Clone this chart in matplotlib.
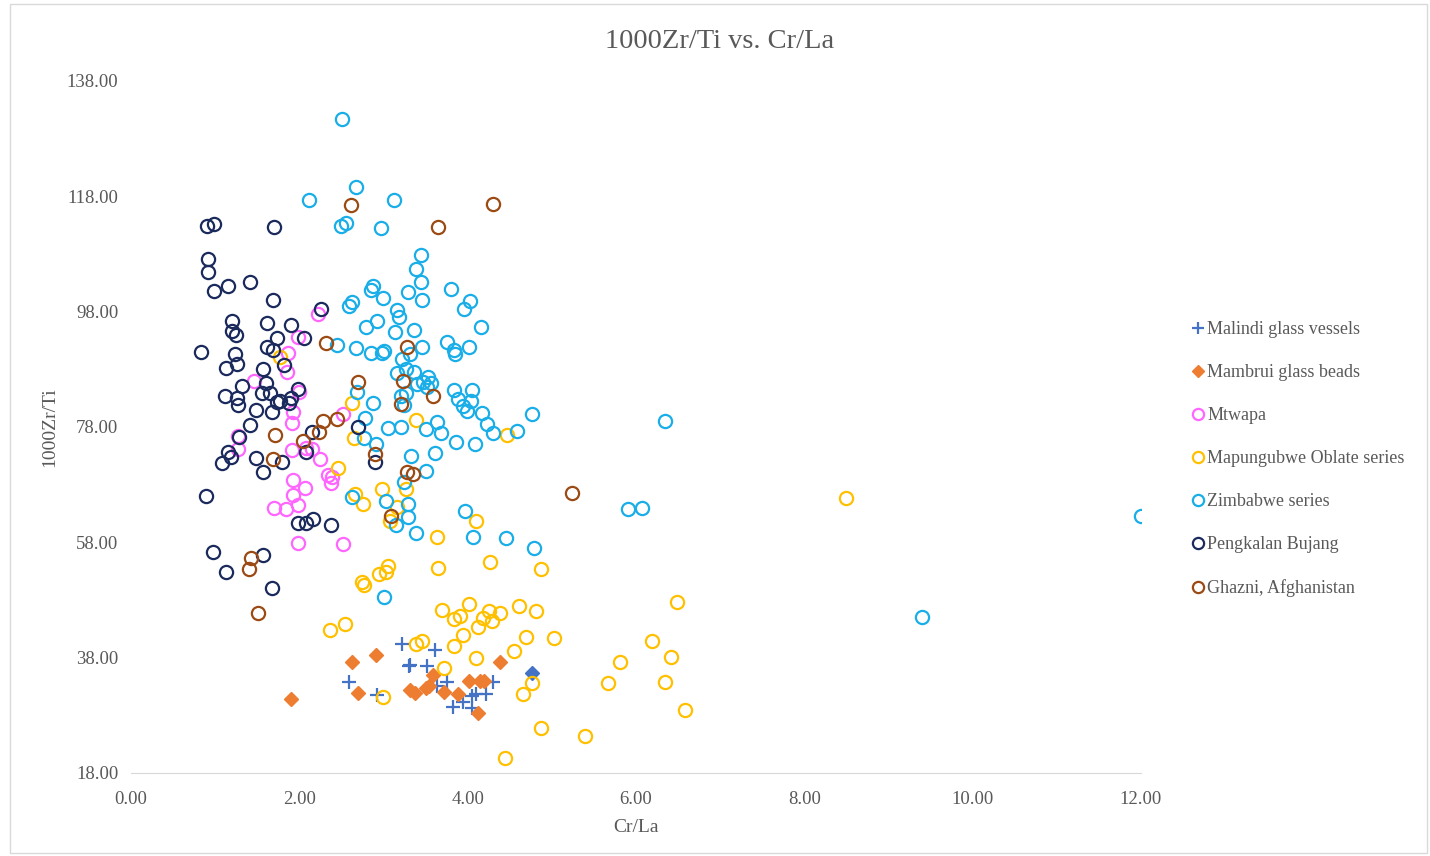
import matplotlib
matplotlib.use("Agg")
import matplotlib.pyplot as plt
from matplotlib.patches import Rectangle

plt.rcParams['font.family'] = ['Liberation Serif', 'DejaVu Serif']

# Malindi glass vessels
malindi_x = [3.22, 3.61, 3.30, 3.31, 3.52, 2.59, 2.92, 3.64, 3.75, 4.05, 4.10, 4.22, 4.30, 3.94, 3.83, 4.05]
malindi_y = [40.4, 39.3, 36.6, 36.7, 36.6, 33.8, 31.5, 33.1, 33.8, 31.4, 31.7, 31.7, 33.8, 30.3, 29.4, 29.3]

# Mambrui glass beads
mambrui_x = [2.63, 2.91, 2.70, 3.59, 3.31, 3.37, 3.50, 3.54, 3.72, 3.89, 4.02, 4.15, 4.19, 4.38, 4.12, 1.90]
mambrui_y = [37.3, 38.5, 31.9, 35.0, 32.4, 31.9, 32.8, 33.1, 32.1, 31.7, 34.0, 34.0, 34.0, 37.3, 28.4, 30.8]
# one point drawn in blue in the original
odd_x = [4.76]
odd_y = [35.3]

# Mtwapa
mtwapa_x = [2.22, 1.98, 1.87, 1.85, 1.46, 2.00, 1.92, 1.91, 2.52, 1.27, 1.27, 1.91, 2.08,
            2.15, 2.25, 2.34, 2.39, 2.38, 1.92, 2.07, 1.92, 1.98, 1.70, 1.84, 1.98, 2.52]
mtwapa_y = [97.6, 93.6, 90.8, 87.5, 86.0, 84.1, 80.6, 78.7, 80.3, 76.4, 74.2, 74.0, 74.4,
            74.2, 72.5, 69.7, 69.3, 68.3, 68.8, 67.4, 66.2, 64.5, 64.0, 63.8, 57.9, 57.7]

# Mapungubwe Oblate series
mapu_x = [1.77, 2.63, 2.65, 2.46, 2.66, 2.76, 3.39, 4.47, 2.98, 3.27, 3.16, 3.08, 4.10, 3.64,
          4.27, 4.87, 3.65, 2.74, 2.77, 2.95, 3.03, 3.05, 2.36, 2.54, 3.69, 3.84, 3.91, 4.02,
          4.12, 4.18, 4.25, 4.29, 4.38, 4.61, 4.81, 3.94, 3.84, 3.39, 3.46, 4.69, 5.03, 4.55,
          4.10, 3.72, 2.99, 4.76, 4.66, 4.87, 4.44, 6.49, 6.19, 6.42, 5.81, 5.67, 6.34, 6.58,
          5.39, 8.49]
mapu_y = [90.1, 82.2, 76.1, 70.9, 66.4, 64.7, 79.2, 76.6, 67.3, 67.3, 64.1, 61.7, 61.7, 58.9,
          54.6, 53.4, 53.6, 51.1, 50.6, 52.5, 52.9, 53.9, 42.8, 43.8, 46.3, 44.7, 45.2, 47.3,
          43.3, 44.9, 46.1, 44.4, 45.8, 47.0, 46.1, 41.9, 40.0, 40.4, 40.9, 41.6, 41.4, 39.2,
          37.9, 36.2, 31.2, 33.6, 31.7, 25.8, 20.6, 47.7, 40.9, 38.1, 37.3, 33.6, 33.8, 28.9,
          24.4, 65.7]

# Zimbabwe series
zim_x = [2.51, 2.67, 2.11, 3.12, 2.49, 2.55, 2.97, 3.45, 3.39, 3.45, 3.80, 4.03, 3.96, 2.85,
         2.88, 2.99, 3.29, 3.46, 2.59, 2.63, 3.16, 3.18, 2.92, 2.79, 3.14, 3.36, 4.16, 2.45,
         2.67, 2.85, 2.98, 3.01, 3.22, 3.31, 3.46, 3.75, 3.84, 3.85, 4.02, 3.16, 3.27, 3.36,
         3.21, 3.27, 3.24, 3.40, 3.47, 3.53, 3.56, 3.52, 3.84, 4.05, 3.89, 4.04, 3.94, 3.99,
         4.17, 4.23, 4.30, 4.76, 2.69, 2.88, 2.78, 3.05, 3.21, 3.50, 3.68, 3.64, 2.77, 2.91,
         3.33, 3.61, 3.86, 4.09, 3.50, 3.24, 2.63, 3.03, 3.29, 3.29, 3.15, 3.39, 3.97, 4.06,
         4.46, 4.79, 3.01, 4.59, 5.90, 6.07, 6.34, 12.00, 9.40]
zim_y = [131.4, 119.6, 117.4, 117.4, 112.9, 113.4, 112.5, 107.8, 105.4, 103.1, 101.9, 99.9,
         98.5, 101.8, 102.5, 100.4, 101.4, 100.0, 99.0, 99.7, 98.3, 97.1, 96.4, 95.3, 94.5,
         94.8, 95.3, 92.2, 91.7, 90.8, 90.8, 91.2, 89.8, 90.7, 91.9, 92.7, 91.4, 90.7, 91.9,
         87.4, 88.1, 87.5, 83.4, 83.9, 81.8, 85.5, 85.8, 86.7, 85.6, 84.9, 84.4, 84.4, 82.9,
         82.5, 81.6, 80.8, 80.4, 78.5, 77.0, 80.3, 84.1, 82.2, 79.6, 77.8, 78.0, 77.7, 77.0,
         78.9, 76.1, 75.1, 73.0, 73.5, 75.4, 75.1, 70.4, 68.5, 65.9, 65.2, 64.7, 62.4, 61.0,
         59.6, 63.4, 58.9, 58.8, 57.0, 48.5, 77.3, 63.8, 64.0, 79.0, 62.6, 45.1]

# Pengkalan Bujang
pb_x = [0.90, 0.99, 1.70, 0.91, 0.91, 1.15, 1.41, 0.99, 1.69, 2.26, 1.20, 1.62, 1.90, 1.20,
        1.25, 1.73, 2.06, 1.62, 1.69, 0.83, 1.24, 1.82, 1.13, 1.26, 1.57, 1.32, 1.60, 1.98,
        1.12, 1.26, 1.27, 1.56, 1.65, 1.49, 1.68, 1.73, 1.77, 1.88, 1.90, 1.41, 1.28, 2.15,
        2.08, 1.15, 1.19, 1.08, 1.49, 1.79, 1.57, 0.89, 1.98, 2.08, 2.16, 2.38, 0.97, 1.57,
        1.13, 1.68, 2.70, 2.90]
pb_y = [112.9, 113.2, 112.7, 107.1, 104.9, 102.5, 103.1, 101.6, 100.0, 98.5, 96.4, 96.0,
        95.7, 94.6, 94.0, 93.4, 93.4, 91.9, 91.4, 91.0, 90.7, 88.8, 88.2, 88.9, 88.1, 85.1,
        85.6, 84.6, 83.4, 83.0, 81.8, 83.9, 83.9, 81.0, 80.6, 82.3, 82.5, 82.2, 83.0, 78.4,
        76.3, 77.1, 73.7, 73.7, 72.8, 71.8, 72.6, 71.9, 70.2, 66.0, 61.4, 61.4, 62.1, 61.0,
        56.3, 55.8, 52.9, 50.1, 78.0, 71.9]

# Ghazni, Afghanistan
gh_x = [2.61, 3.65, 4.30, 2.32, 3.28, 2.70, 3.23, 3.59, 3.21, 2.28, 2.45, 2.23, 2.04, 1.71,
        1.69, 2.90, 3.28, 3.35, 5.24, 3.09, 1.43, 1.40, 1.51]
gh_y = [116.5, 112.7, 116.7, 92.6, 91.9, 85.8, 86.0, 83.4, 82.0, 79.0, 79.4, 77.1, 75.6,
        76.6, 72.5, 73.3, 70.2, 69.9, 66.6, 62.6, 55.3, 53.4, 45.8]

xticks = [0, 2, 4, 6, 8, 10, 12]
yticks = [18, 38, 58, 78, 98, 118, 138]

fig = plt.figure(figsize=(14.3, 8.56), dpi=100)
fig.patches.append(Rectangle((0.007, 0.003), 0.991, 0.992, transform=fig.transFigure,
                             fill=False, edgecolor='#D9D9D9', linewidth=1))
ax = fig.add_axes([0.0916, 0.097, 0.7063, 0.8084])

ms = 9.5
mew = 1.6
ax.plot(malindi_x, malindi_y, linestyle='none', marker='+', ms=10, mew=1.6,
        color='#4472C4', label='Malindi glass vessels')
ax.plot(mambrui_x, mambrui_y, linestyle='none', marker='D', ms=7.5,
        color='#ED7D31', label='Mambrui glass beads')
ax.plot(odd_x, odd_y, linestyle='none', marker='D', ms=7.5, color='#4472C4')
ax.plot(mtwapa_x, mtwapa_y, linestyle='none', marker='o', ms=ms, mew=mew, mfc='none',
        mec='#FF66FF', label='Mtwapa')
ax.plot(mapu_x, mapu_y, linestyle='none', marker='o', ms=ms, mew=mew, mfc='none',
        mec='#FFC000', label='Mapungubwe Oblate series')
ax.plot(zim_x, zim_y, linestyle='none', marker='o', ms=ms, mew=mew, mfc='none',
        mec='#1AAEE8', label='Zimbabwe series')
ax.plot(pb_x, pb_y, linestyle='none', marker='o', ms=ms, mew=mew, mfc='none',
        mec='#1B2A5C', label='Pengkalan Bujang')
ax.plot(gh_x, gh_y, linestyle='none', marker='o', ms=ms, mew=mew, mfc='none',
        mec='#9C4A14', label='Ghazni, Afghanistan')

ax.set_xlim(0, 12)
ax.set_ylim(18, 138)
ax.set_xticks(xticks)
ax.set_yticks(yticks)
ax.set_xticklabels(['%.2f' % v for v in xticks])
ax.set_yticklabels(['%.2f' % v for v in yticks])
ax.tick_params(length=0, labelsize=13.5, colors='#595959')
ax.tick_params(axis='x', pad=13)
ax.tick_params(axis='y', pad=9)
for s in ['top', 'right', 'left']:
    ax.spines[s].set_visible(False)
ax.spines['bottom'].set_color('#D9D9D9')
ax.set_xlabel('Cr/La', fontsize=14, color='#595959', labelpad=8)
ax.set_ylabel('1000Zr/Ti', fontsize=14, color='#595959', labelpad=6)
fig.text(0.503, 0.952, '1000Zr/Ti vs. Cr/La', ha='center', va='center',
         fontsize=20.5, color='#595959')

leg = ax.legend(loc='upper left', bbox_to_anchor=(1.035, 0.676), frameon=False,
                fontsize=13, labelspacing=1.44, handlelength=0.6, handletextpad=0.2,
                markerscale=0.85, labelcolor='#595959')

fig.savefig('out.png', dpi=100, facecolor='white')
